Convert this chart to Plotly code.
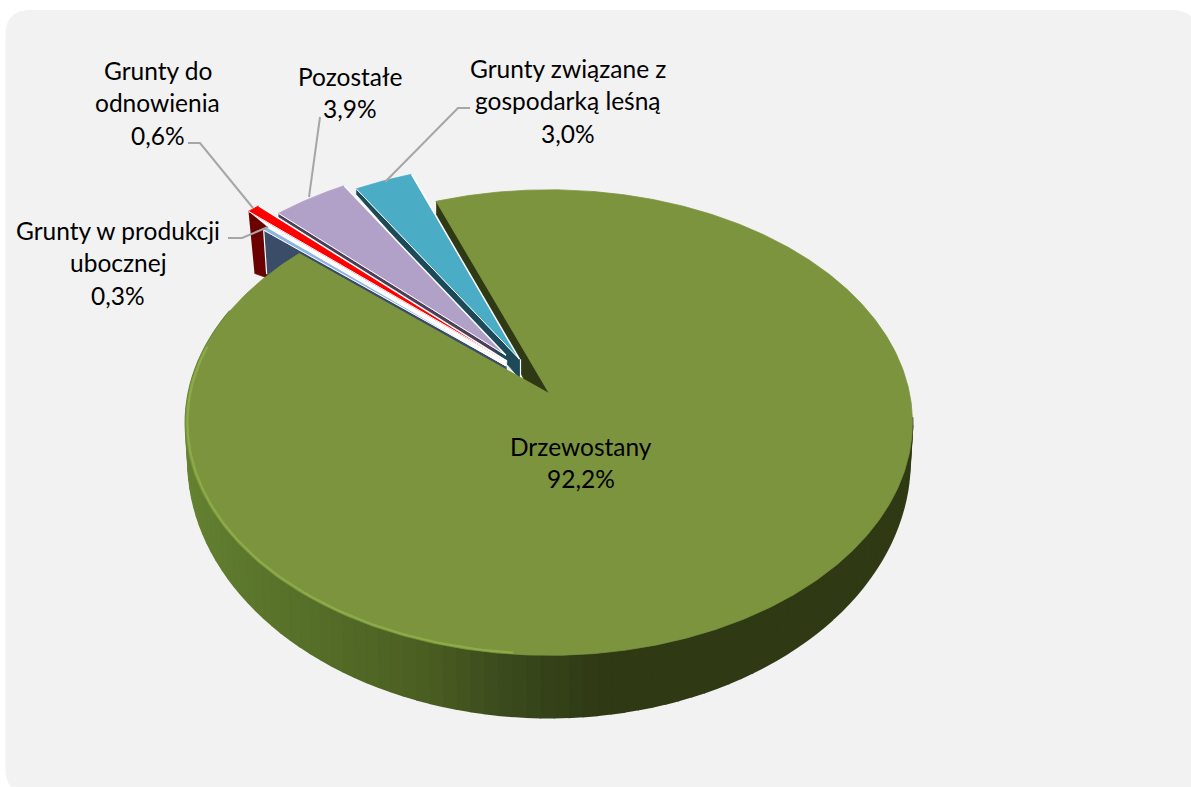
import numpy as np
import plotly.graph_objects as go

# ---- data ----
categories = ["Drzewostany", "Grunty w produkcji ubocznej", "Grunty do odnowienia",
              "Pozostałe", "Grunty związane z gospodarką leśną"]
shares = [92.2, 0.3, 0.6, 3.9, 3.0]
label_lines = [["Drzewostany"], ["Grunty w produkcji", "ubocznej"], ["Grunty do", "odnowienia"],
               ["Pozostałe"], ["Grunty związane z", "gospodarką leśną"]]

# ---- style ----
top_colors = ["#7c943d", "#8db4e2", "#ff0000", "#b1a0c7", "#4bacc6"]
wall_colors = ["#2f3a15", "#3a4c68", "#6b0000", "#4a3f57", "#1c4a58"]
pulls = [0.0, 0.17, 0.185, 0.208, 0.172]
pull_dirs = [0.0, -45.0, -40.0, -36.0, -29.0]
radii = [1.0, 1.0, 1.096, 1.0, 1.0]
drop_outer = [13, 44, 62, 3.5, 5]
drop_apex = [35, 5, 3, 7, 20]
shift_outer = [0, 3, 6, 0, 0]
label_xy = [(581, 446), (118, 230), (157.5, 70), (350, 76), (568, 68)]
LINE_GAP = 32.5
FONT = dict(family="Lato, Carlito, sans-serif", size=24.5, color="#000000")
FIRST_ANGLE = -20.5
CX, CY_TOP, A_TOP, B_TOP, K_TOP = 549.0, 393.0, 360.5, 229.0, 0.127
CY_BOT, A_BOT, B_BOT, K_BOT = 428.0, 358.0, 253.0, 0.126
leaders = [None,
           [(228, 238), (242, 238), (268, 227)],
           [(188, 143), (200, 143), (253, 208)],
           [(320, 117), (309, 197)],
           [(470, 108), (458, 108), (385, 182)]]
grad_x = [186, 230, 330, 430, 480, 540, 600, 920]
grad_rgb = [(102, 130, 50), (94, 122, 46), (84, 108, 40), (74, 94, 34),
            (64, 80, 30), (54, 68, 26), (47, 58, 22), (47, 58, 21)]


def project(u, v, cy=CY_TOP, a=A_TOP, b=B_TOP, k=K_TOP):
    s = 1.0 / (1.0 + k * v)
    return CX + a * u * s, cy - b * v * s


def project_bot(u, v):
    return project(u, v, CY_BOT, A_BOT, B_BOT, K_BOT)


def polar(deg, r=1.0):
    t = np.radians(deg)
    return r * np.sin(t), r * np.cos(t)


fig = go.Figure()


def poly(xs, ys, color, line_color=None, width=0.8):
    fig.add_trace(go.Scatter(x=list(xs), y=list(ys), mode="lines", fill="toself", fillcolor=color,
                             line=dict(color=line_color or color, width=width),
                             hoverinfo="skip", showlegend=False))


def path(xs, ys, color, width):
    fig.add_trace(go.Scatter(x=list(xs), y=list(ys), mode="lines", line=dict(color=color, width=width),
                             hoverinfo="skip", showlegend=False))


# slice geometry from the shares
angles = []
cur = FIRST_ANGLE
for val in shares:
    angles.append((cur, cur + val * 3.6))
    cur += val * 3.6

geom = []
for i, (a0, a1) in enumerate(angles):
    ou, ov = polar(pull_dirs[i], pulls[i])
    th = np.linspace(a0, a1, max(int((a1 - a0) * 2), 6))
    uu, vv = polar(th, radii[i])
    ax, ay = project(ou, ov)
    ox, oy = project(uu + ou, vv + ov)
    geom.append((float(ax), float(ay), ox, oy))


# radial walls
def radial_wall(i):
    ax, ay, ox, oy = geom[i]
    xs = [ox[0], ax, ax + 1, ox[0] + shift_outer[i]]
    ys = [oy[0], ay, ay + drop_apex[i], oy[0] + drop_outer[i]]
    poly(xs, ys, wall_colors[i])


for i in [0, 2, 1, 3, 4]:
    radial_wall(i)
    ax, ay, ox, oy = geom[i]
    if i:
        path([ax + 1, ax + 1], [ay, ay + drop_apex[i]], "#ffffff", 1.2)
ax, ay, ox, oy = geom[1]
path([ox[0], ox[0] + shift_outer[1]], [oy[0], oy[0] + drop_outer[1]], "#ffffff", 1.2)

# white gap between the two thinnest slices
rax, ray, rox, roy = geom[2]
lax, lay, lox, loy = geom[1]
poly([rox[0], rax, lax, lox[-1]], [roy[0], ray, lay, loy[-1]], "#ffffff")

# outer curved wall of the main slice, shaded strip by strip
edges = np.linspace(96, 292, 100)
for t0, t1 in zip(edges[:-1], edges[1:]):
    u, v = polar(np.array([t0, t1]))
    tx, ty = project(u, v)
    bx, by = project_bot(u, v)
    xm = float((tx.mean() + bx.mean()) / 2)
    rgb = [int(np.interp(xm, grad_x, [c[j] for c in grad_rgb])) for j in range(3)]
    col = f"rgb({rgb[0]},{rgb[1]},{rgb[2]})"
    poly([tx[0], tx[1], bx[1], bx[0]], [ty[0], ty[1], by[1], by[0]], col, width=2)

# top faces
ax, ay, ox, oy = geom[0]
poly([ax, *ox], [ay, *oy], top_colors[0])
u, v = polar(np.linspace(185, 282, 90), 0.995)
rx, ry = project(u, v)
path(rx, ry, "#8bac48", 2.2)

for i in [1, 2, 3, 4]:
    ax, ay, ox, oy = geom[i]
    poly([ax, *ox], [ay, *oy], top_colors[i])
    path([ox[0], ax], [oy[0], ay], "#ffffff", 1.0)
    path([ax, ox[-1]], [ay, oy[-1]], "#ffffff", 1.5)

# leader lines
for pts in leaders:
    if pts:
        path([p[0] for p in pts], [p[1] for p in pts], "#a6a6a6", 2)

# labels
for lines, val, (lx, ly) in zip(label_lines, shares, label_xy):
    all_lines = lines + [f"{val:.1f}%".replace(".", ",")]
    for n, txt in enumerate(all_lines):
        fig.add_annotation(x=lx, y=ly + n * LINE_GAP, text=txt, showarrow=False,
                           xanchor="center", yanchor="middle", font=FONT)

r = 25
L, T, R, B = 5.5, 10, 1197, 794
fig.update_layout(
    width=1191, height=787, margin=dict(l=0, r=0, t=0, b=0),
    paper_bgcolor="#ffffff", plot_bgcolor="rgba(0,0,0,0)", showlegend=False,
    xaxis=dict(range=[0, 1191], visible=False, fixedrange=True),
    yaxis=dict(range=[787, 0], visible=False, fixedrange=True),
    shapes=[dict(type="path", layer="below", line=dict(width=0), fillcolor="#f2f2f2",
                 path=f"M{L+r},{T} L{R-r},{T} Q{R},{T} {R},{T+r} L{R},{B-r} Q{R},{B} {R-r},{B} "
                      f"L{L+r},{B} Q{L},{B} {L},{B-r} L{L},{T+r} Q{L},{T} {L+r},{T} Z")],
)
fig.write_html("out.html", config={"displayModeBar": False},
               post_script="document.body.style.margin='0';document.documentElement.style.overflow='hidden';")
